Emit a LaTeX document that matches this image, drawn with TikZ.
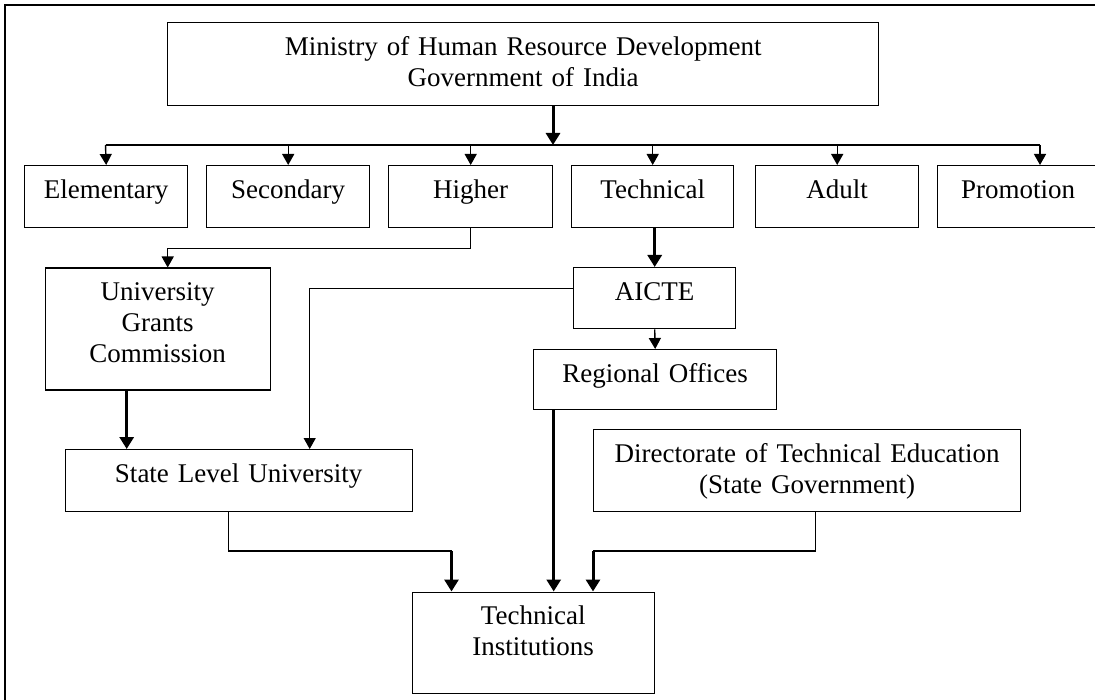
\documentclass[tikz,border=0pt]{standalone}
\usepackage{fontspec}
\setmainfont{Liberation Serif}
\usetikzlibrary{arrows.meta}

\tikzset{
  unit/.style={draw, line width=1.4pt, inner sep=0pt, align=center,
    anchor=north west, text height=32.5pt,
    font=\fontsize{27pt}{31pt}\selectfont},
  link/.style={line width=1.4pt},
  tip/.style={link, -{Triangle[width=12pt,length=11pt]}},
  heavy/.style={line width=3pt, -{Triangle[width=14pt,length=12pt]}},
}

\begin{document}
\begin{tikzpicture}[x=1pt, y=-1pt]
    \useasboundingbox (0,0) rectangle (1095,700);
    % frame
    \draw[line width=2.5pt] (5,700) -- (5,5) -- (1095,5);

    % boxes
    \node[unit, text width=711pt, text depth=50.5pt] (ministry) at (167,22) {Ministry of Human Resource Development\\Government of India};
    \node[unit, text width=163pt, text depth=29.5pt] (elem) at (24,165) {Elementary};
    \node[unit, text width=163pt, text depth=29.5pt] (second) at (206,165) {Secondary};
    \node[unit, text width=164pt, text depth=29.5pt] (higher) at (388,165) {Higher};
    \node[unit, text width=162pt, text depth=29.5pt] (techn) at (571,165) {Technical};
    \node[unit, text width=163pt, text depth=29.5pt] (adult) at (755,165) {Adult};
    \node[unit, text width=161pt, text depth=29.5pt] (promo) at (937,165) {Promotion};
    \node[unit, text width=225pt, text depth=89.5pt] (ugc) at (44.5,267.5) {University\\Grants\\Commission};
    \node[unit, text width=162pt, text depth=28.5pt] (aicte) at (573,267) {AICTE};
    \node[unit, text width=243pt, text depth=27.5pt] (regional) at (533,349) {Regional Offices};
    \node[unit, text width=427pt, text depth=49.5pt] (dte) at (593,429) {Directorate of Technical Education\\(State Government)};
    \node[unit, text width=347pt, text depth=29.5pt] (state) at (64.5,449) {State Level University};
    \node[unit, text width=242pt, text depth=69pt] (ti) at (411.5,591.5) {Technical\\Institutions};

    % ministry to the six bureaus
    \coordinate (drop) at (553,145);
    \coordinate (busL) at (105.5,145);
    \coordinate (busR) at (1040,145);
    \draw[heavy] (ministry.south -| drop) -- (drop);
    \draw[link] (busL) -- (busR);
    \draw[tip] (busL) -- (elem.north);
    \draw[tip] (busL -| second.north) -- (second.north);
    \draw[tip] (busL -| higher.north) -- (higher.north);
    \draw[tip] (busL -| techn.north) -- (techn.north);
    \draw[tip] (busL -| adult.north) -- (adult.north);
    \draw[tip] (busR) -- (busR |- promo.north);

    % second level
    \draw[tip] (higher.south) -- ++(0,20) -| ([xshift=10pt]ugc.north);
    \draw[heavy] (techn.south -| aicte.north) -- (aicte.north);
    \draw[tip] ([yshift=9.5pt]aicte.west) -| ([xshift=71pt]state.north);
    \draw[tip] (aicte.south) -- (regional.north);
    \coordinate (ugcdrop) at ([xshift=-31pt]ugc.south);
    \draw[heavy] (ugcdrop) -- (ugcdrop |- state.north);

    % into the institutions
    \coordinate (sjoin) at (451.5,551);
    \draw[link] ([xshift=-10.5pt]state.south) |- (sjoin);
    \draw[heavy] (sjoin) -- (sjoin |- ti.north);
    \coordinate (rdrop) at ([xshift=-101.5pt]regional.south);
    \draw[heavy] (rdrop) -- (rdrop |- ti.north);
    \coordinate (djoin) at (593,551);
    \draw[link] ([xshift=8.5pt]dte.south) |- (djoin);
    \draw[heavy] (djoin) -- (djoin |- ti.north);
\end{tikzpicture}
\end{document}
